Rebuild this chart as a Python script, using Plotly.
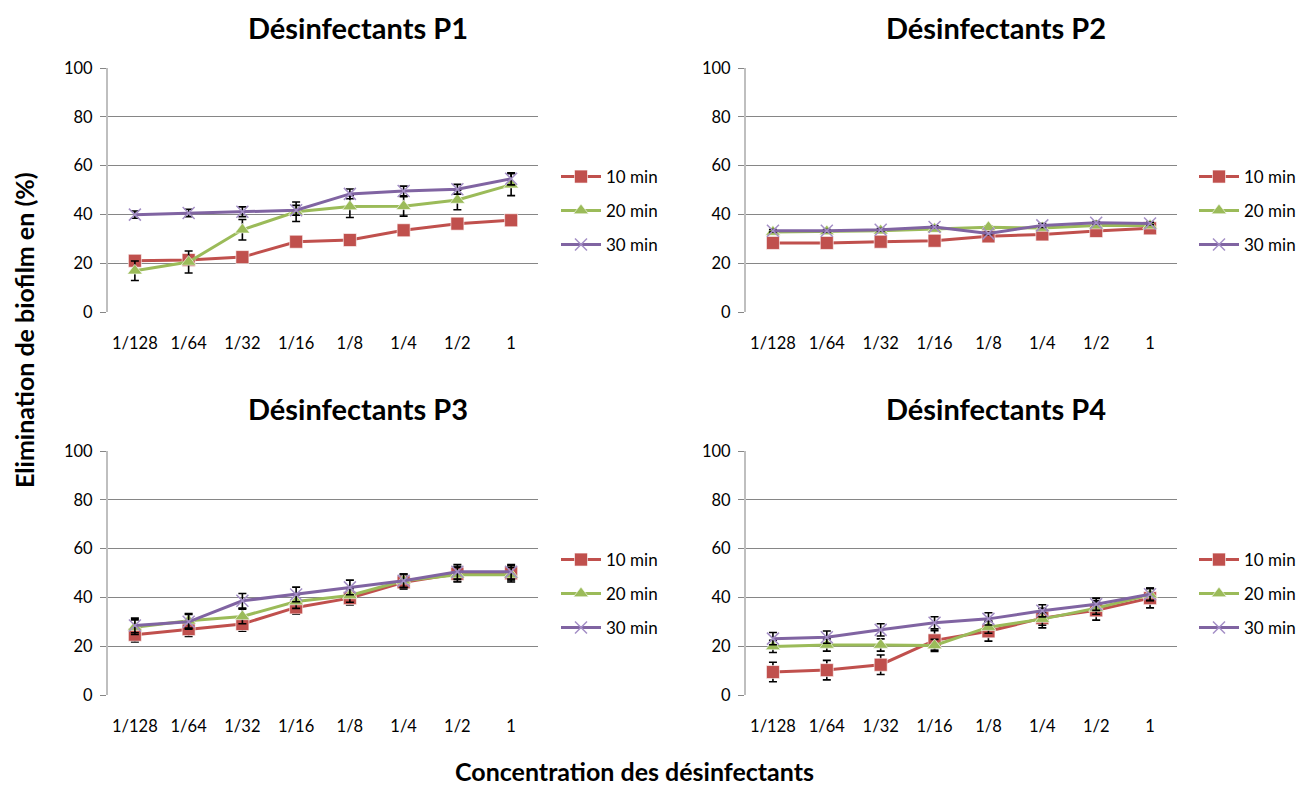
import plotly.graph_objects as go

categories = ["1/128", "1/64", "1/32", "1/16", "1/8", "1/4", "1/2", "1"]
series_names = ["10 min", "20 min", "30 min"]
panel_titles = ["Désinfectants P1", "Désinfectants P2", "Désinfectants P3", "Désinfectants P4"]

# values per panel: [10 min, 20 min, 30 min]
p1_10 = [21.0, 21.3, 22.5, 28.8, 29.5, 33.5, 36.2, 37.6]
p1_20 = [16.9, 20.5, 33.7, 41.1, 43.2, 43.3, 45.9, 52.2]
p1_30 = [39.9, 40.6, 41.1, 41.7, 48.4, 49.6, 50.3, 54.6]
p1_10_err = [1.0, 1.0, 1.0, 1.0, 1.0, 1.0, 1.0, 1.0]
p1_20_err = [4.0, 4.5, 4.2, 4.0, 4.5, 4.0, 4.0, 4.5]
p1_30_err = [1.5, 1.5, 2.0, 2.0, 2.0, 2.0, 2.0, 2.5]

p2_10 = [28.3, 28.3, 28.8, 29.2, 31.0, 31.8, 33.2, 34.3]
p2_20 = [32.8, 33.0, 33.3, 34.0, 34.7, 34.4, 35.4, 35.4]
p2_30 = [33.3, 33.3, 33.7, 34.8, 32.2, 35.5, 36.6, 36.3]
p2_10_err = [0.5, 0.5, 0.5, 0.5, 0.5, 0.5, 0.5, 0.5]
p2_20_err = [0.5, 0.5, 0.5, 0.5, 0.5, 0.5, 0.5, 0.5]
p2_30_err = [0.5, 0.5, 0.5, 0.5, 0.5, 0.8, 0.5, 0.5]

p3_10 = [24.7, 27.0, 29.1, 35.9, 39.7, 46.2, 49.7, 49.9]
p3_20 = [27.8, 30.4, 32.2, 38.3, 40.8, 46.8, 49.3, 49.3]
p3_30 = [28.5, 30.0, 38.6, 41.2, 44.1, 46.8, 50.5, 50.5]
p3_10_err = [3.0, 3.0, 3.0, 2.8, 2.8, 2.8, 3.0, 3.0]
p3_20_err = [3.0, 3.0, 3.0, 2.8, 2.8, 2.8, 3.0, 3.0]
p3_30_err = [3.0, 3.0, 3.0, 3.0, 3.0, 2.8, 3.0, 3.0]

p4_10 = [9.4, 10.2, 12.4, 22.4, 26.1, 31.5, 34.7, 39.7]
p4_20 = [19.9, 20.5, 20.5, 20.3, 27.8, 31.1, 35.6, 41.1]
p4_30 = [23.1, 23.7, 26.7, 29.6, 31.2, 34.5, 37.2, 41.3]
p4_10_err = [4.0, 4.0, 4.0, 4.0, 4.0, 4.0, 4.0, 4.0]
p4_20_err = [2.5, 2.5, 2.5, 2.5, 2.5, 2.5, 2.5, 2.5]
p4_30_err = [2.5, 2.5, 2.5, 2.5, 2.5, 2.5, 2.5, 2.5]

panels = [
    ([p1_10, p1_20, p1_30], [p1_10_err, p1_20_err, p1_30_err]),
    ([p2_10, p2_20, p2_30], [p2_10_err, p2_20_err, p2_30_err]),
    ([p3_10, p3_20, p3_30], [p3_10_err, p3_20_err, p3_30_err]),
    ([p4_10, p4_20, p4_30], [p4_10_err, p4_20_err, p4_30_err]),
]

W, H = 1296, 791
FONT = "Lato"
colors = ["#C0504D", "#9BBB59", "#8064A2"]
marker_colors = ["#C0504D", "#9BBB59", "#A48FC6"]
symbols = ["square", "triangle-up", "x-thin"]
msizes = [13, 13, 12]

# pixel geometry of plot areas
xdom_px = [(108, 538), (746, 1177), (108, 538), (746, 1177)]
ydom_px = [(68, 312), (68, 312), (451, 695), (451, 695)]
legend_px = [(556, 177), (1194, 177), (556, 560), (1194, 560)]
title_px = [(358, 27), (996, 27), (358, 409), (996, 409)]

fig = go.Figure()
layout = dict(
    width=W, height=H,
    margin=dict(l=0, r=0, t=0, b=0, autoexpand=False),
    paper_bgcolor="white", plot_bgcolor="white",
    font=dict(family=FONT, color="#000000", size=16),
    showlegend=True,
)

annotations = []
legend_count = 0
for i, (vals, errs) in enumerate(panels):
    ax = "" if i == 0 else str(i + 1)
    xref = "x" + ax
    yref = "y" + ax
    for s in range(3):
        legend_count += 1
        lid = "legend" if legend_count == 1 else "legend%d" % legend_count
        mk = dict(symbol=symbols[s], size=msizes[s], color=marker_colors[s])
        if s == 2:
            mk["line"] = dict(width=1.5, color=marker_colors[s])
        else:
            mk["line"] = dict(width=1, color="rgba(255,255,255,0.6)")
        fig.add_trace(go.Scatter(
            x=categories, y=vals[s], name=series_names[s],
            mode="lines+markers",
            line=dict(color=colors[s], width=3),
            marker=mk,
            error_y=dict(type="data", array=errs[s], visible=True,
                         color="#000000", thickness=1.6, width=4),
            xaxis=xref, yaxis=yref, legend=lid,
        ))
        lx, ly = legend_px[i]
        layout[lid] = dict(
            x=lx / W, y=1 - (ly + s * 34) / H,
            xanchor="left", yanchor="middle",
            bgcolor="rgba(0,0,0,0)",
            font=dict(family=FONT, size=17, color="#000000"),
            itemwidth=40,
        )
    x0, x1 = xdom_px[i]
    y0, y1 = ydom_px[i]
    layout["xaxis" + ax] = dict(
        domain=[x0 / W, x1 / W], anchor=yref,
        type="category", range=[-0.5, 7.5],
        showgrid=False, zeroline=False, showline=False,
        ticks="", ticklabelstandoff=19, automargin=False,
        tickfont=dict(family=FONT, size=16.5, color="#000000"),
        fixedrange=True,
    )
    layout["yaxis" + ax] = dict(
        domain=[1 - y1 / H, 1 - y0 / H], anchor=xref,
        range=[0, 100], dtick=20, tick0=0,
        showgrid=True, gridcolor="#868686", gridwidth=1,
        zeroline=False, automargin=False,
        showline=True, linecolor="#BFBFBF", linewidth=2,
        ticks="outside", ticklen=6, tickcolor="#868686", tickwidth=1,
        tickfont=dict(family=FONT, size=16.5, color="#000000"),
        ticklabelstandoff=4,
        fixedrange=True,
    )
    tx, ty = title_px[i]
    annotations.append(dict(
        text="<b>%s</b>" % panel_titles[i], x=tx / W, y=1 - ty / H,
        xref="paper", yref="paper", showarrow=False,
        xanchor="center", yanchor="middle",
        font=dict(family=FONT, size=29, color="#000000"),
    ))

annotations.append(dict(
    text="<b>Elimination de biofilm en (%)</b>", x=24 / W, y=1 - 330 / H,
    xref="paper", yref="paper", showarrow=False, textangle=-90,
    xanchor="center", yanchor="middle",
    font=dict(family=FONT, size=25, color="#000000"),
))
annotations.append(dict(
    text="<b>Concentration des désinfectants</b>", x=634 / W, y=1 - 771 / H,
    xref="paper", yref="paper", showarrow=False,
    xanchor="center", yanchor="middle",
    font=dict(family=FONT, size=25, color="#000000"),
))
layout["annotations"] = annotations

fig.update_layout(**layout)
fig.write_html("out.html")
